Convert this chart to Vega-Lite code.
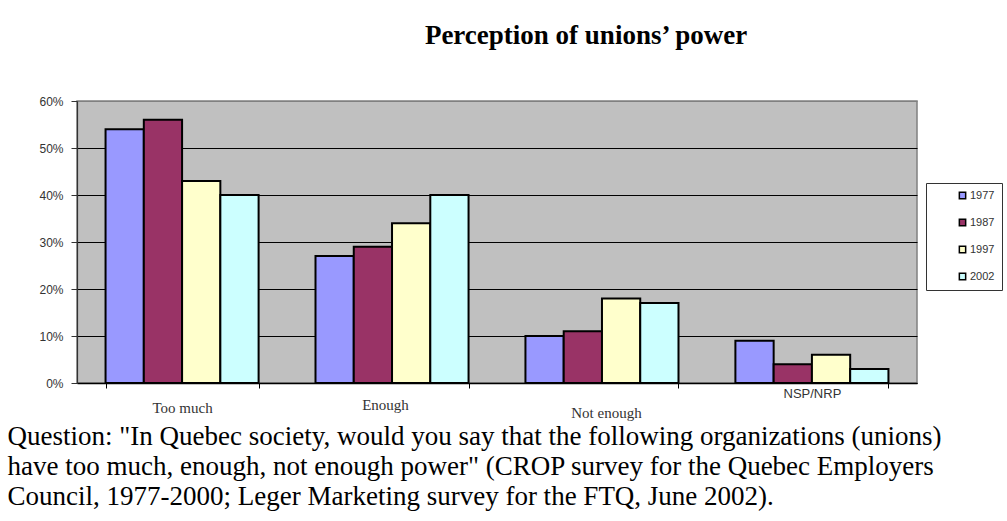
{
  "$schema": "https://vega.github.io/schema/vega-lite/v6.json",
  "width": 840,
  "height": 282,
  "autosize": {"type": "none"},
  "padding": {"left": 77, "top": 101, "right": 90, "bottom": 138},
  "background": "white",
  "title": {
    "text": "Perception of unions’ power",
    "font": "Liberation Serif",
    "fontSize": 27,
    "fontWeight": "bold",
    "color": "black",
    "anchor": "middle",
    "frame": "group",
    "dx": 89,
    "offset": 24,
    "baseline": "alphabetic"
  },
  "data": {
    "values": [
      {"response": "Too much", "year": "1977", "share": 54},
      {"response": "Too much", "year": "1987", "share": 56},
      {"response": "Too much", "year": "1997", "share": 43},
      {"response": "Too much", "year": "2002", "share": 40},
      {"response": "Enough", "year": "1977", "share": 27},
      {"response": "Enough", "year": "1987", "share": 29},
      {"response": "Enough", "year": "1997", "share": 34},
      {"response": "Enough", "year": "2002", "share": 40},
      {"response": "Not enough", "year": "1977", "share": 10},
      {"response": "Not enough", "year": "1987", "share": 11},
      {"response": "Not enough", "year": "1997", "share": 18},
      {"response": "Not enough", "year": "2002", "share": 17},
      {"response": "NSP/NRP", "year": "1977", "share": 9},
      {"response": "NSP/NRP", "year": "1987", "share": 4},
      {"response": "NSP/NRP", "year": "1997", "share": 6},
      {"response": "NSP/NRP", "year": "2002", "share": 3}
    ]
  },
  "mark": {"type": "bar", "stroke": "black", "strokeWidth": 2},
  "encoding": {
    "x": {
      "field": "response",
      "type": "nominal",
      "sort": ["Too much", "Enough", "Not enough", "NSP/NRP"],
      "scale": {"paddingInner": 0.271, "paddingOuter": 0.136},
      "axis": {
        "title": [
          "\u00a0\u00a0Question: \"In Quebec society, would you say that the following organizations (unions)",
          "have too much, enough, not enough power\" (CROP survey for the Quebec Employers",
          "Council, 1977-2000; Leger Marketing survey for the FTQ, June 2002)."
        ],
        "titleFont": "Liberation Serif",
        "titleFontSize": 27,
        "titleFontWeight": "normal",
        "titleColor": "black",
        "titleAnchor": "start",
        "titleAlign": "left",
        "titleBaseline": "alphabetic",
        "titleX": -70,
        "titleY": 61,
        "titleLineHeight": 30,
        "labelAngle": 0,
        "labelBaseline": "middle",
        "labelColor": "#333333",
        "labelFont": {
          "condition": {"test": "datum.value == 'NSP/NRP'", "value": "Liberation Sans"},
          "value": "Liberation Serif"
        },
        "labelFontSize": {
          "condition": {"test": "datum.value == 'NSP/NRP'", "value": 13},
          "value": 15
        },
        "labelPadding": {
          "condition": [
            {"test": "datum.value == 'Too much'", "value": 19},
            {"test": "datum.value == 'Enough'", "value": 16},
            {"test": "datum.value == 'Not enough'", "value": 24}
          ],
          "value": 5
        },
        "labelOffset": {
          "condition": [
            {"test": "datum.value == 'Enough'", "value": -7},
            {"test": "datum.value == 'Not enough'", "value": 4}
          ],
          "value": 0
        },
        "tickBand": "extent",
        "tickSize": 5,
        "tickColor": "black",
        "domainColor": "black",
        "domainWidth": 1.5,
        "grid": false
      }
    },
    "xOffset": {
      "field": "year",
      "type": "nominal",
      "scale": {"paddingInner": 0, "paddingOuter": 0}
    },
    "y": {
      "field": "share",
      "type": "quantitative",
      "scale": {"domain": [0, 60], "nice": false},
      "axis": {
        "title": null,
        "values": [0, 10, 20, 30, 40, 50, 60],
        "labelExpr": "datum.value + '%'",
        "labelFont": "Liberation Sans",
        "labelFontSize": 12,
        "labelColor": "#333333",
        "labelPadding": 8,
        "tickSize": 6,
        "tickColor": "#333333",
        "domainColor": "#333333",
        "domainWidth": 1.2,
        "grid": true,
        "gridColor": {
          "condition": {"test": "datum.value >= 60", "value": "#808080"},
          "value": "black"
        },
        "gridWidth": 1.2,
        "gridOpacity": 1
      }
    },
    "color": {
      "field": "year",
      "type": "nominal",
      "scale": {
        "domain": ["1977", "1987", "1997", "2002"],
        "range": ["#9999FF", "#993366", "#FFFFCC", "#CCFFFF"]
      },
      "legend": {
        "title": null,
        "orient": "none",
        "legendX": 849,
        "legendY": 82,
        "direction": "vertical",
        "strokeColor": "#333333",
        "fillColor": "white",
        "padding": 7,
        "rowPadding": 14,
        "symbolType": "square",
        "symbolSize": 40,
        "symbolStrokeColor": "black",
        "symbolStrokeWidth": 1.5,
        "symbolOffset": 24,
        "labelFont": "Liberation Sans",
        "labelFontSize": 11,
        "labelColor": "#333333",
        "labelOffset": 2
      }
    }
  },
  "config": {
    "view": {"fill": "#C0C0C0", "stroke": "#808080", "strokeWidth": 1.5}
  }
}
